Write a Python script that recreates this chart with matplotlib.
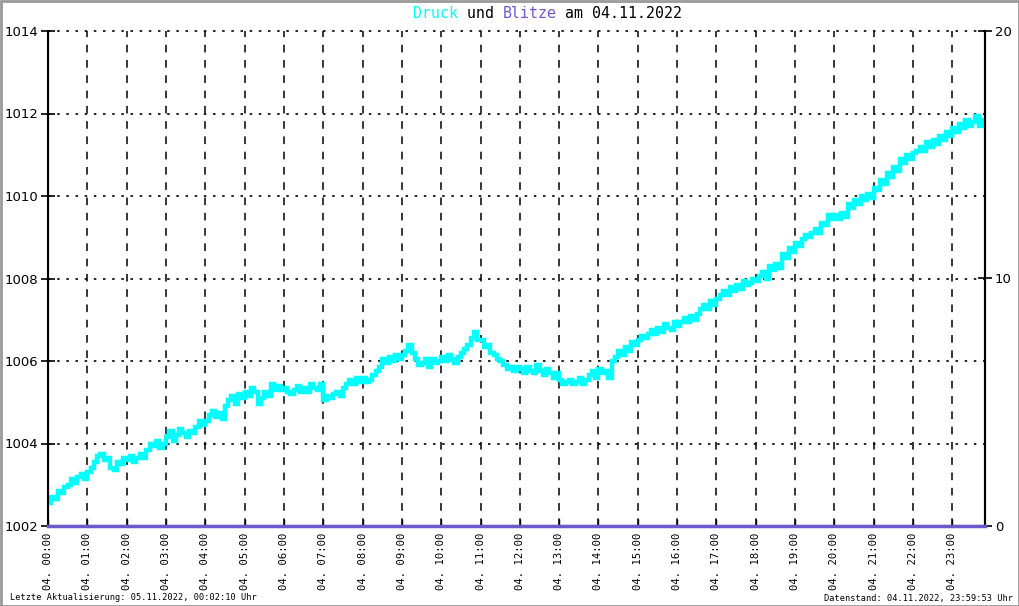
import numpy as np
import matplotlib
matplotlib.use("Agg")
import matplotlib.pyplot as plt
from matplotlib.patches import Rectangle

# ---------------- data ----------------
hours = list(range(24))
tick_labels = ["04. %02d:00" % h for h in hours]

# pressure (hPa), 5-minute readings from 00:00 to ~23:45
druck = [
    1002.55, 1002.70, 1002.65, 1002.85, 1002.80, 1002.95, 1003.00, 1003.15, 1003.05, 1003.20, 1003.25, 1003.15,
    1003.30, 1003.40, 1003.55, 1003.70, 1003.75, 1003.60, 1003.65, 1003.40, 1003.35, 1003.55, 1003.50, 1003.65,
    1003.60, 1003.70, 1003.55, 1003.65, 1003.75, 1003.65, 1003.85, 1004.00, 1003.95, 1004.05, 1003.90, 1004.00,
    1004.15, 1004.30, 1004.05, 1004.20, 1004.35, 1004.25, 1004.15, 1004.30, 1004.25, 1004.40, 1004.55, 1004.45,
    1004.55, 1004.70, 1004.80, 1004.65, 1004.75, 1004.60, 1004.90, 1005.05, 1005.15, 1004.95, 1005.20, 1005.10,
    1005.25, 1005.15, 1005.35, 1005.25, 1004.95, 1005.10, 1005.25, 1005.15, 1005.45, 1005.30, 1005.40, 1005.30,
    1005.35, 1005.25, 1005.20, 1005.30, 1005.40, 1005.25, 1005.35, 1005.25, 1005.45, 1005.35, 1005.30, 1005.45,
    1005.05, 1005.15, 1005.10, 1005.20, 1005.25, 1005.15, 1005.35, 1005.45, 1005.55, 1005.45, 1005.60, 1005.50,
    1005.60, 1005.50, 1005.55, 1005.65, 1005.75, 1005.85, 1006.05, 1005.95, 1006.10, 1006.00, 1006.15, 1006.05,
    1006.15, 1006.25, 1006.40, 1006.20, 1006.05, 1005.90, 1005.95, 1006.05, 1005.85, 1006.05, 1005.95, 1006.00,
    1006.10, 1006.00, 1006.15, 1006.05, 1005.95, 1006.10, 1006.20, 1006.30, 1006.40, 1006.55, 1006.70, 1006.50,
    1006.50, 1006.35, 1006.40, 1006.20, 1006.15, 1006.05, 1006.00, 1005.90, 1005.80, 1005.85, 1005.75, 1005.85,
    1005.80, 1005.70, 1005.85, 1005.75, 1005.70, 1005.90, 1005.75, 1005.65, 1005.80, 1005.70, 1005.60, 1005.70,
    1005.55, 1005.45, 1005.50, 1005.55, 1005.45, 1005.50, 1005.60, 1005.45, 1005.55, 1005.65, 1005.75, 1005.60,
    1005.80, 1005.70, 1005.75, 1005.60, 1006.00, 1006.10, 1006.25, 1006.15, 1006.35, 1006.25, 1006.45, 1006.40,
    1006.50, 1006.60, 1006.55, 1006.65, 1006.75, 1006.65, 1006.80, 1006.70, 1006.90, 1006.80, 1006.75, 1006.95,
    1006.85, 1006.95, 1007.05, 1006.95, 1007.10, 1007.00, 1007.15, 1007.25, 1007.35, 1007.25, 1007.45, 1007.35,
    1007.50, 1007.60, 1007.70, 1007.60, 1007.80, 1007.70, 1007.85, 1007.75, 1007.95, 1007.85, 1007.90, 1008.00,
    1007.95, 1008.05, 1008.15, 1008.00, 1008.30, 1008.20, 1008.35, 1008.25, 1008.60, 1008.50, 1008.75, 1008.65,
    1008.85, 1008.80, 1008.95, 1009.05, 1009.00, 1009.10, 1009.20, 1009.10, 1009.35, 1009.30, 1009.55, 1009.45,
    1009.55, 1009.45, 1009.60, 1009.50, 1009.80, 1009.70, 1009.90, 1009.80, 1010.00, 1009.90, 1010.05, 1009.95,
    1010.20, 1010.15, 1010.40, 1010.30, 1010.55, 1010.45, 1010.70, 1010.60, 1010.90, 1010.80, 1011.00, 1010.90,
    1011.05, 1011.10, 1011.20, 1011.10, 1011.30, 1011.20, 1011.35, 1011.25, 1011.45, 1011.35, 1011.55, 1011.45,
    1011.65, 1011.55, 1011.75, 1011.65, 1011.85, 1011.70, 1011.80, 1011.95, 1011.70, 1011.85,
]
druck_time = [i / 12.0 for i in range(len(druck))]

# lightning count: none recorded
blitze = [0, 0]
blitze_time = [0.0, 23.83]

left_ticks = [1002, 1004, 1006, 1008, 1010, 1012, 1014]
right_ticks = [0, 10, 20]

title_parts = [("Druck", "#00FFFF"), (" und ", "black"), ("Blitze", "#6A5ACD"),
               (" am 04.11.2022", "black")]
footer_left = "Letzte Aktualisierung: 05.11.2022, 00:02:10 Uhr"
footer_right = "Datenstand: 04.11.2022, 23:59:53 Uhr"

# ---------------- figure ----------------
W, H = 1020, 606
fig = plt.figure(figsize=(W / 100, H / 100), dpi=100)
fig.patch.set_facecolor("white")
fig.patches.append(Rectangle((0.5 / W, 0.5 / H), 1 - 1.5 / W, 1 - 1.5 / H,
                             transform=fig.transFigure, fill=False,
                             edgecolor="#999999", lw=2))

L, R, T, B = 48, 985, 31, 526
ax = fig.add_axes([L / W, 1 - B / H, (R - L) / W, (B - T) / H])
ax.set_xlim(0, 23.83)
ax.set_ylim(1002, 1014)

mono = "DejaVu Sans Mono"

# grid
for h in hours[1:]:
    ax.axvline(h, color="black", lw=1.1, ls=(0, (5, 5)), zorder=1)
for v in left_ticks[1:]:
    ax.axhline(v, color="black", lw=1.2, ls=(0, (1.5, 4)), zorder=1, clip_on=False)

ax.plot(druck_time, druck, color="#00FFFF", lw=3.2, drawstyle="steps-post",
        zorder=3, solid_joinstyle="miter")

ax.set_xticks(hours)
ax.set_xticklabels(tick_labels, rotation=90, fontfamily=mono, fontsize=7.6)
ax.set_yticks(left_ticks)
ax.set_yticklabels([str(v) for v in left_ticks], fontfamily="DejaVu Sans", fontsize=9.5)
ax.tick_params(axis="x", direction="in", length=5, width=1, pad=5)
ax.tick_params(axis="y", direction="inout", length=10, width=1.2, pad=2)
ax.spines["top"].set_visible(False)
for s in ("left", "right", "bottom"):
    ax.spines[s].set_linewidth(1.5)

ax2 = ax.twinx()
ax2.set_ylim(0, 20)
ax2.set_yticks(right_ticks)
ax2.set_yticklabels([str(v) for v in right_ticks], fontfamily="DejaVu Sans", fontsize=9.5)
ax2.tick_params(axis="y", direction="inout", length=10, width=1.2, pad=2)
ax2.spines["top"].set_visible(False)
ax2.spines["right"].set_linewidth(1.5)
ax2.plot(blitze_time, blitze, color="#6A5ACD", lw=2.5, clip_on=False, zorder=5)

# title with colored words
fs_title = 10.7
charw = fs_title / 72 * 100 * 0.602
x0 = 413
n = 0
for txt, col in title_parts:
    fig.text((x0 + n * charw) / W, 1 - 14 / H, txt, color=col, fontfamily=mono,
             fontsize=fs_title, ha="left", va="center")
    n += len(txt)

fig.text(10 / W, 1 - 598 / H, footer_left, fontfamily=mono, fontsize=6.2,
         ha="left", va="center")
fig.text(1013 / W, 1 - 598 / H, footer_right, fontfamily=mono, fontsize=6.2,
         ha="right", va="center")

fig.savefig("out.png", dpi=100)
